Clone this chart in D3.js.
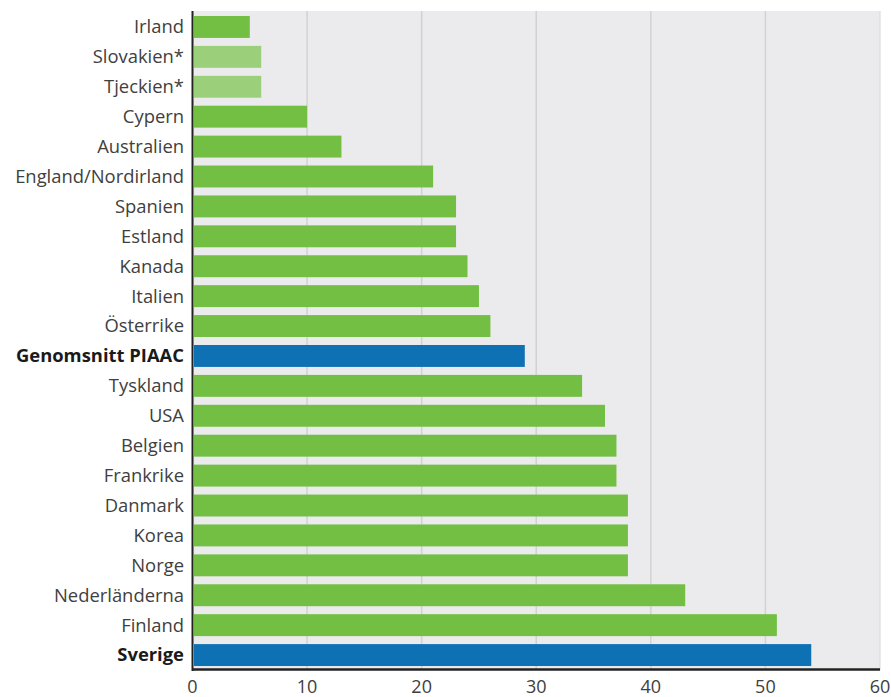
<!DOCTYPE html>
<html><head><meta charset="utf-8">
<script src="https://cdn.jsdelivr.net/npm/d3@7"></script>
<style>body{margin:0;background:#fff;}svg text{font-family:"Open Sans","Noto Sans",sans-serif;}</style>
</head><body><svg id="c" width="891" height="697"></svg>
<script>
const countries = ["Irland","Slovakien*","Tjeckien*","Cypern","Australien","England/Nordirland","Spanien","Estland","Kanada","Italien","Österrike","Genomsnitt PIAAC","Tyskland","USA","Belgien","Frankrike","Danmark","Korea","Norge","Nederländerna","Finland","Sverige"];
const values = [5,6,6,10,13,21,23,23,24,25,26,29,34,36,37,37,38,38,38,43,51,54];
const kinds = ["n","l","l","n","n","n","n","n","n","n","n","h","n","n","n","n","n","n","n","n","n","h"];
const ticks = [0,10,20,30,40,50,60];

const colors = {n:"#72bf44", l:"#9bcf7a", h:"#0e71b3"};
const svg = d3.select("#c");
const m = {l:192.5, r:880, t:12, b:670};
const x = d3.scaleLinear().domain([0,60]).range([m.l, m.r]);
const y = d3.scaleBand().domain(countries).range([m.t, m.b]).paddingInner(0.267).paddingOuter(0.133);

svg.append("rect").attr("x",m.l).attr("y",11).attr("width",m.r-m.l).attr("height",m.b-11).attr("fill","#ebebed");
svg.append("line").attr("x1",m.r).attr("x2",m.r).attr("y1",11).attr("y2",m.b).attr("stroke","#d6d6d8").attr("stroke-width",1);
svg.selectAll(".grid").data(ticks.slice(1,-1)).enter().append("line")
  .attr("x1",d=>x(d)).attr("x2",d=>x(d)).attr("y1",11).attr("y2",m.b)
  .attr("stroke","#d2d2d4").attr("stroke-width",1.5);

svg.selectAll(".bar").data(countries).enter().append("rect")
  .attr("x",x(0)+1.5).attr("y",d=>y(d)).attr("height",y.bandwidth())
  .attr("width",(d,i)=>x(values[i])-x(0)-1.5)
  .attr("fill",(d,i)=>colors[kinds[i]]);

svg.append("line").attr("x1",m.l).attr("x2",m.r).attr("y1",m.b-0.5).attr("y2",m.b-0.5).attr("stroke","#222").attr("stroke-width",2.5);
svg.append("line").attr("x1",m.l).attr("x2",m.l).attr("y1",11).attr("y2",m.b+1).attr("stroke","#222").attr("stroke-width",2);

svg.selectAll(".lab").data(countries).enter().append("text")
  .attr("x",184).attr("y",d=>y(d)+y.bandwidth()/2).attr("dy","0.35em")
  .attr("text-anchor","end").attr("font-size",18.4)
  .attr("font-weight",(d,i)=>kinds[i]==="h"?"bold":"normal")
  .attr("fill",(d,i)=>kinds[i]==="h"?"#1a1a1a":"#404040")
  .text(d=>d);

svg.selectAll(".tk").data(ticks).enter().append("text")
  .attr("x",d=>x(d)).attr("y",687).attr("dy","0.35em").attr("text-anchor","middle")
  .attr("font-size",18).attr("fill","#404040").text(d=>d);
</script></body></html>
